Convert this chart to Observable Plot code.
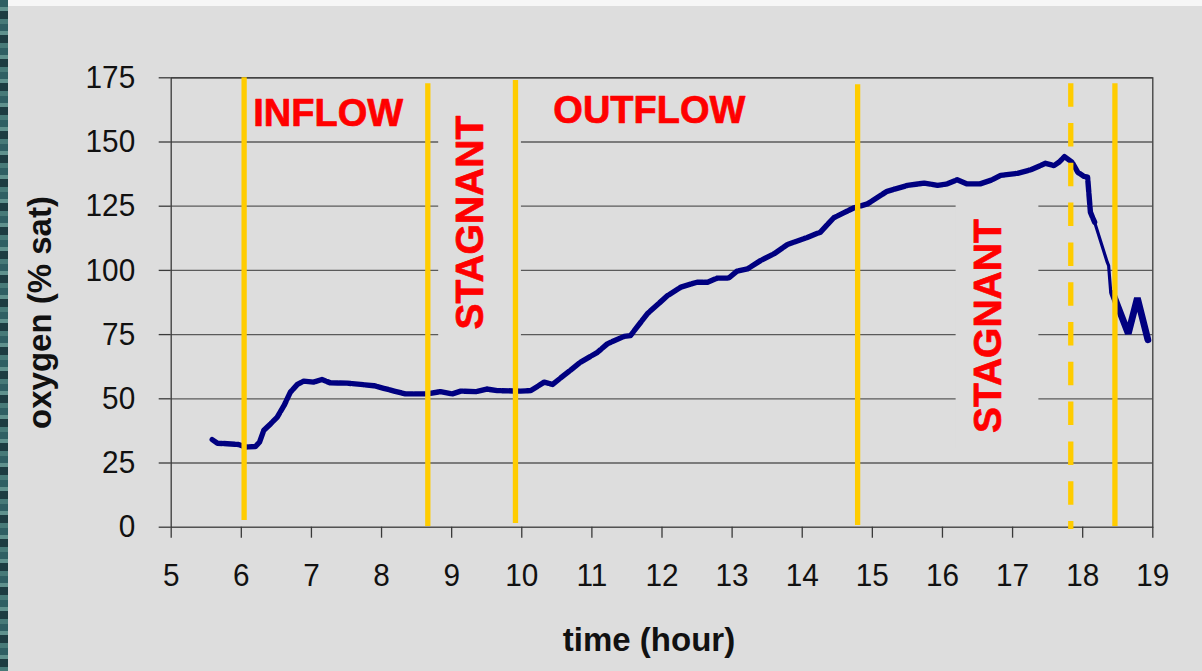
<!DOCTYPE html>
<html>
<head>
<meta charset="utf-8">
<script src="https://cdn.jsdelivr.net/npm/d3@7"></script>
<script src="https://cdn.jsdelivr.net/npm/@observablehq/plot@0.6"></script>
<style>
html, body { margin: 0; padding: 0; background: #dddddd; }
#wrap { position: relative; width: 1202px; height: 671px; overflow: hidden; background: #dddddd; }
#edge { position: absolute; left: 0; top: 0; width: 8px; height: 671px;
  background: repeating-linear-gradient(180deg, #2f5f63 0 7px, #5f918d 7px 11px, #1d3c41 11px 19px, #477a78 19px 24px); }
#topstrip { position: absolute; left: 8px; top: 0; width: 1194px; height: 6px; background: #f6f6f6; }
#chart { position: absolute; left: 0; top: 0; }
</style>
</head>
<body>
<div id="wrap"><div id="edge"></div><div id="topstrip"></div><div id="chart"></div></div>
<script>
// ---- data ----
const xTicks = [5, 6, 7, 8, 9, 10, 11, 12, 13, 14, 15, 16, 17, 18, 19];
const yTicks = [0, 25, 50, 75, 100, 125, 150, 175];

// main oxygen record (time in hours, oxygen in % saturation)
const hours = [5.585, 5.66, 5.80, 5.96, 6.06, 6.20, 6.26, 6.32, 6.42, 6.51, 6.61, 6.70, 6.80, 6.89, 7.03, 7.15, 7.27, 7.51, 7.70, 7.89,
  8.03, 8.18, 8.34, 8.65, 8.84, 9.01, 9.13, 9.35, 9.50, 9.65, 9.98, 10.13, 10.32, 10.44, 10.60, 10.84, 11.08, 11.22, 11.46, 11.55,
  11.79, 12.08, 12.27, 12.50, 12.65, 12.79, 12.95, 13.07, 13.22, 13.41, 13.60, 13.79, 14.02, 14.26, 14.45, 14.59, 14.74, 14.93, 15.21, 15.50,
  15.74, 15.93, 16.07, 16.21, 16.35, 16.54, 16.71, 16.83, 17.07, 17.26, 17.47, 17.59, 17.66, 17.74, 17.85, 17.93, 18.02, 18.07, 18.11, 18.14, 18.17];
const oxygen = [34.1, 32.7, 32.5, 32.2, 31.2, 31.4, 33.1, 37.7, 40.3, 42.8, 47.4, 52.6, 55.6, 56.9, 56.5, 57.5, 56.2, 56.1, 55.6, 55.1,
  54.1, 53.0, 51.9, 51.9, 52.8, 51.9, 53.0, 52.8, 53.8, 53.2, 53.0, 53.2, 56.5, 55.6, 59.1, 64.3, 68.1, 71.4, 74.3, 74.6,
  83.1, 90.2, 93.5, 95.4, 95.4, 97.0, 97.0, 99.7, 100.6, 103.9, 106.5, 110.1, 112.3, 114.9, 120.5, 122.4, 124.4, 125.9, 130.8, 133.1,
  134.0, 133.1, 133.7, 135.3, 133.7, 133.7, 135.3, 137.0, 137.8, 139.2, 141.7, 140.8, 142.1, 144.3, 142.1, 138.2, 136.6, 136.3, 122.7, 120.7, 118.8];

// thin falling segment
const dropHours = [18.17, 18.35, 18.37, 18.40];
const dropOxygen = [118.8, 103.2, 101.9, 91.5];

// final thick zig-zag
const endHours = [18.43, 18.65, 18.78, 18.93];
const endOxygen = [91.0, 75.4, 89.2, 73.0];

// phase boundaries (yellow)
const phaseTimes = [6.04, 8.66, 9.91, 14.79, 18.46];
const phaseTop = [175, 172.7, 173.9, 172.3, 172.7];
const phaseBottom = [2.6, 0.3, 1.4, 0.7, 0.3];
const dashedTimes = [17.83];
const dashedTop = [172.7];
const dashedBottom = [-0.9];

// labels
const flowLabels = ["INFLOW", "OUTFLOW"];
const flowX = [6.17, 10.45];
const flowY = [161.0, 162.0];
const stagnantLabels = ["STAGNANT", "STAGNANT"];
const stagnantX = [9.27, 16.65];
const stagnantY = [118.6, 78.3];

// ---- tables built from arrays ----
const main = hours.map((t, i) => ({t, o: oxygen[i]}));
const drop = dropHours.map((t, i) => ({t, o: dropOxygen[i]}));
const end = endHours.map((t, i) => ({t, o: endOxygen[i]}));
const phases = phaseTimes.map((x, i) => ({x, top: phaseTop[i], bottom: phaseBottom[i]}));
const dashed = dashedTimes.map((x, i) => ({x, top: dashedTop[i], bottom: dashedBottom[i]}));
const flows = flowLabels.map((text, i) => ({text, x: flowX[i], y: flowY[i]}));
const stag = stagnantLabels.map((text, i) => ({text, x: stagnantX[i], y: stagnantY[i],
  x1: stagnantX[i] - 0.455, x2: stagnantX[i] + 0.725, y1: stagnantY[i] - 47.8, y2: stagnantY[i] + 47.8}));

const font = "'Liberation Sans', Arial, Helvetica, sans-serif";
const bg = "#dddddd";

const chart = Plot.plot({
  width: 1202,
  height: 671,
  marginLeft: 170.7,
  marginRight: 49.7,
  marginTop: 77.3,
  marginBottom: 144.3,
  style: {background: "transparent", color: "#111", fontFamily: font, fontSize: "30px"},
  x: {domain: [5, 19]},
  y: {domain: [0, 175]},
  marks: [
    Plot.ruleY(yTicks.filter(d => d > 0), {stroke: "#5a5a5a", strokeWidth: 1.3}),
    Plot.rect(stag, {x1: "x1", x2: "x2", y1: "y1", y2: "y2", fill: bg}),
    Plot.frame({stroke: "#3a3a3a", strokeWidth: 1.3}),
    Plot.axisY({ticks: yTicks, tickSize: 12, tickPadding: 24, label: null, fontSize: 32, stroke: "#3a3a3a", strokeWidth: 1.3}),
    Plot.axisX({ticks: xTicks, tickSize: 11, tickPadding: 25, label: null, fontSize: 32, stroke: "#3a3a3a", strokeWidth: 1.3}),
    Plot.line(main, {x: "t", y: "o", stroke: "#000080", strokeWidth: 5.4, strokeDasharray: "11 1.7", strokeLinejoin: "round"}),
    Plot.line(drop, {x: "t", y: "o", stroke: "#000080", strokeWidth: 3.2}),
    Plot.line(end, {x: "t", y: "o", stroke: "#000080", strokeWidth: 6.8, strokeLinejoin: "miter"}),
    Plot.ruleX(phases, {x: "x", y1: "top", y2: "bottom", stroke: "#FFCC00", strokeWidth: 5.3}),
    Plot.ruleX(dashed, {x: "x", y1: "top", y2: "bottom", stroke: "#FFCC00", strokeWidth: 5.3, strokeDasharray: "23.5 16.3"}),
    Plot.text(flows, {x: "x", y: "y", text: "text", textAnchor: "start", fill: "#ff0000", stroke: "#ff0000", strokeWidth: 0.7, fontSize: 38, fontWeight: "bold"}),
    Plot.text(stag, {x: "x", y: "y", text: "text", rotate: -90, fill: "#ff0000", stroke: "#ff0000", strokeWidth: 0.7, fontSize: 39, fontWeight: "bold"}),
    Plot.text(["time (hour)"], {frameAnchor: "bottom", textAnchor: "middle", lineAnchor: "middle", dx: -13, dy: 113, fontSize: 33, fontWeight: "bold", fill: "#111"}),
    Plot.text(["oxygen (% sat)"], {frameAnchor: "left", textAnchor: "middle", lineAnchor: "middle", rotate: -90, dx: -131, dy: 10, fontSize: 33, fontWeight: "bold", fill: "#111"})
  ]
});
// slightly condensed tick labels, as in the original rendering
d3.select(chart).selectAll('g[aria-label="y-axis tick label"] text, g[aria-label="x-axis tick label"] text')
  .attr("transform", function() { return (this.getAttribute("transform") || "") + " scale(0.93,1)"; });
document.getElementById("chart").appendChild(chart);
</script>
</body>
</html>
